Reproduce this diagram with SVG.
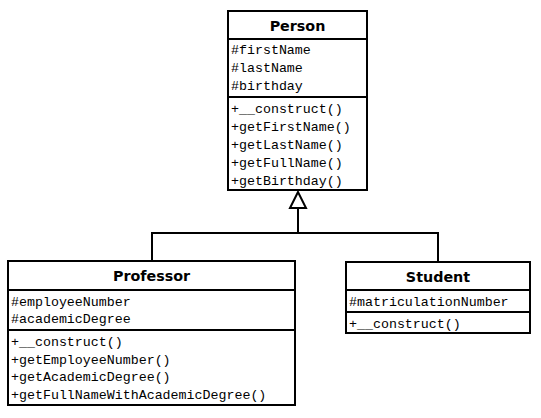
<svg xmlns="http://www.w3.org/2000/svg" width="541" height="418" viewBox="0 0 541 418">
<style>
.box{fill:#fff;stroke:#000;stroke-width:2}
.sep{stroke:#000;stroke-width:2}
.t{font-family:"DejaVu Sans",Verdana,sans-serif;font-weight:bold;font-size:14.3px;text-anchor:middle;fill:#000}
.m{font-family:"Liberation Mono","Courier New",monospace;font-size:13.3px;fill:#000}
.c{fill:none;stroke:#000;stroke-width:2}
</style>
<rect width="541" height="418" fill="#fff"/>
<g id="connectors">
<polyline class="c" points="152,261 152,233 438,233 438,262"/>
<line class="c" x1="298" y1="233" x2="298" y2="208"/>
<polygon points="298,192 290,208 306,208" fill="#fff" stroke="#000" stroke-width="2"/>
</g>
<g id="person">
<rect class="box" x="228" y="11" width="139" height="179"/>
<line class="sep" x1="228" y1="39" x2="367" y2="39"/>
<line class="sep" x1="228" y1="97" x2="367" y2="97"/>
<text class="t" x="297.5" y="31">Person</text>
<text class="m" x="231" y="54">#firstName</text>
<text class="m" x="231" y="72">#lastName</text>
<text class="m" x="231" y="89.5">#birthday</text>
<text class="m" x="231" y="113">+__construct()</text>
<text class="m" x="231" y="131">+getFirstName()</text>
<text class="m" x="231" y="148.5">+getLastName()</text>
<text class="m" x="231" y="166.5">+getFullName()</text>
<text class="m" x="231" y="184.5">+getBirthday()</text>
</g>
<g id="professor">
<rect class="box" x="8" y="261" width="287" height="144"/>
<line class="sep" x1="8" y1="290" x2="295" y2="290"/>
<line class="sep" x1="8" y1="330" x2="295" y2="330"/>
<text class="t" x="151.5" y="281">Professor</text>
<text class="m" x="11" y="305.5">#employeeNumber</text>
<text class="m" x="11" y="323">#academicDegree</text>
<text class="m" x="11" y="346">+__construct()</text>
<text class="m" x="11" y="363.5">+getEmployeeNumber()</text>
<text class="m" x="11" y="381">+getAcademicDegree()</text>
<text class="m" x="11" y="398.5">+getFullNameWithAcademicDegree()</text>
</g>
<g id="student">
<rect class="box" x="346" y="262" width="184" height="71"/>
<line class="sep" x1="346" y1="290" x2="530" y2="290"/>
<line class="sep" x1="346" y1="312" x2="530" y2="312"/>
<text class="t" x="438" y="282">Student</text>
<text class="m" x="349" y="306">#matriculationNumber</text>
<text class="m" x="349" y="328">+__construct()</text>
</g>
</svg>
